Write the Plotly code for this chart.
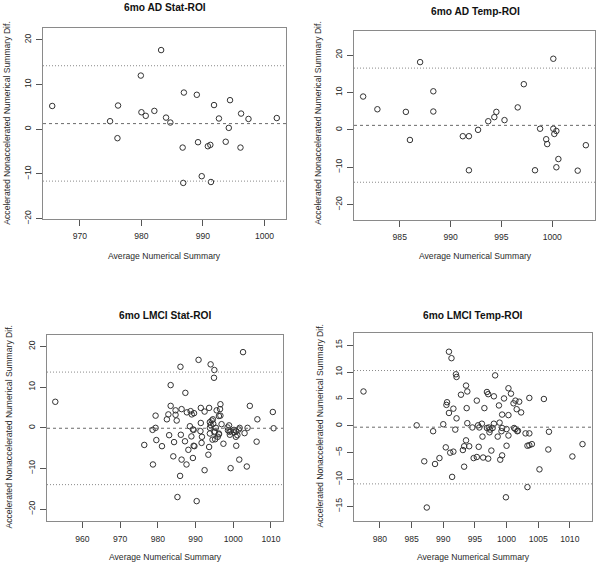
import plotly.graph_objects as go

# ---------------- data ----------------
ad_stat_x = [965.5, 974.9, 976.2, 976.1, 979.9, 980.0, 980.7, 982.1, 983.2, 984.0,
             984.7, 986.9, 989.0, 991.8, 992.6, 994.4, 994.2, 996.2, 997.4, 1002.0,
             986.7, 989.2, 990.8, 991.2, 993.7, 996.1, 986.8, 989.8, 991.3]
ad_stat_y = [5.2, 1.8, 5.3, -2.0, 12.0, 3.8, 3.0, 4.1, 17.7, 2.6,
             1.5, 8.2, 7.7, 5.4, 2.4, 6.5, 0.3, 3.5, 2.3, 2.5,
             -4.1, -2.9, -3.8, -3.5, -2.8, -4.1, -12.0, -10.5, -11.8]
ad_stat_lines = [1.26, 14.2, -11.6]   # mean, upper limit, lower limit

ad_temp_x = [981.4, 982.8, 985.6, 986.0, 987.0, 988.3, 988.3, 991.2, 991.8, 992.7,
             993.7, 994.3, 994.5, 995.3, 996.6, 997.2, 998.8, 999.4, 999.5, 1000.1,
             1000.1, 1000.2, 1000.4, 1003.3, 991.8, 998.3, 1000.4, 1000.6, 1002.5]
ad_temp_y = [8.9, 5.5, 4.8, -2.7, 18.1, 10.3, 4.9, -1.7, -1.7, 0.0,
             2.3, 3.4, 4.8, 2.6, 6.0, 12.2, 0.3, -2.5, -3.8, 19.0,
             0.3, -1.1, -0.3, -4.1, -10.8, -10.8, -10.0, -7.8, -10.9]
ad_temp_lines = [1.2, 16.5, -14.0]

lmci_stat_x = [952.8, 979.4, 979.4, 982.4, 982.8, 983.4, 983.4, 984.7, 984.7, 985.0,
               986.0, 986.3, 987.3, 987.7, 988.7, 989.0, 989.6, 988.5, 989.3, 990.8,
               991.4, 991.4, 992.4, 993.6, 994.0, 995.0, 994.9, 993.8, 994.6, 995.6,
               996.6, 996.5, 996.2, 996.9, 993.8, 995.0, 996.2, 998.5, 999.0, 1000.2,
               1001.1, 1001.7, 1002.6, 1003.0, 1003.8, 1004.4, 1006.4, 1010.5, 1010.7,
               978.6, 976.4, 979.6, 981.1, 983.0, 984.3, 984.1, 986.1, 986.3, 987.2,
               987.6, 988.1, 988.9, 989.5, 989.7, 989.5, 989.3, 985.9, 991.3, 991.7,
               992.4, 993.4, 993.6, 994.5, 995.2, 995.1, 995.9, 996.2, 999.3, 1000.7,
               1000.8, 1001.6, 1006.2, 1003.6, 999.3, 978.7, 985.2, 990.3,
               996.6, 994.3, 994.7, 994.0, 995.4, 998.9, 1000.2, 998.6, 1000.8, 1001.5,
               993.8, 999.1, 991.6, 997.4]
lmci_stat_y = [6.4, 3.0, 0.0, 2.1, 3.3, 10.5, 5.4, 4.3, 3.2, 1.8,
               15.0, 4.6, 8.6, 3.8, 4.1, 3.3, 3.6, 0.4, -0.4, 16.7,
               4.9, 1.2, 4.0, 4.9, 15.6, 14.2, 12.3, 1.4, 2.1, 4.3,
               5.8, 4.6, 2.9, 0.9, 0.0, -1.1, -1.4, 0.1, -1.0, -1.1,
               -1.8, 0.0, 18.6, -1.3, 0.0, 5.4, 2.1, 3.9, -0.1,
               -0.5, -4.2, -3.0, -4.5, -1.8, -3.5, -7.0, -1.7, -7.8, -3.3,
               -9.0, -5.4, -2.1, -4.4, -4.5, -0.5, -7.4, -11.8, -0.8, -2.2,
               -10.4, -6.6, -4.7, -2.9, -2.8, -0.9, -2.2, -1.6, -0.8, -2.2,
               -4.4, -7.8, -3.4, -9.5, -9.9, -9.0, -17.0, -18.0,
               3.0, 1.8, 1.0, 0.7, 0.0, 0.6, -0.5, -0.6, -0.8, -0.4,
               -1.4, -1.7, -3.7, -3.9]
lmci_stat_lines = [-0.1, 13.7, -13.95]

lmci_temp_x = [977.4, 985.8, 988.4, 990.0, 990.9, 991.3, 992.0, 992.1, 990.6, 990.5,
               990.9, 991.6, 992.1, 991.9, 992.8, 993.6, 993.8, 993.7, 993.8, 994.6,
               995.3, 995.5, 996.1, 996.5, 996.9, 997.1, 996.9, 997.4, 998.0, 998.2,
               998.0, 998.8, 998.9, 999.3, 999.6, 999.3, 1000.0, 1000.3, 1000.3, 1000.7,
               1001.1, 1001.4, 1002.0, 1001.6, 1002.3, 1001.4, 1001.7, 1003.0, 1003.6, 1003.6,
               1005.9, 1006.7, 987.0, 987.4, 988.7, 989.4, 990.4, 991.1, 991.6, 991.4,
               993.1, 993.3, 993.6, 994.1, 993.3, 994.8, 995.3, 995.6, 996.2, 996.3,
               997.1, 997.3, 997.6, 998.6, 999.0, 999.3, 999.2, 999.9, 1000.0, 1000.3,
               1001.8, 1003.3, 1003.6, 1004.0, 1003.3, 1005.2, 1006.6, 1010.4, 1012.0,
               997.8, 1001.2, 997.2, 995.7]
lmci_temp_y = [6.4, 0.1, -1.0, 0.3, 13.8, 12.6, 9.6, 9.1, 4.4, 3.9,
               2.4, 3.2, 1.4, -0.7, 5.8, 7.5, 6.4, 3.3, 0.5, -0.3,
               4.7, 0.1, 0.4, 3.3, 6.3, 5.9, -0.4, -0.7, 5.5, 9.4,
               0.4, 3.8, 0.6, 2.1, 5.1, -0.4, -0.6, 2.0, 7.0, 6.0,
               4.2, 4.7, 4.5, 3.1, 2.5, -0.6, -1.0, -1.4, -1.4, 5.2,
               5.0, -1.1, -6.6, -15.2, -7.1, -6.0, -4.0, -5.0, -4.8, -9.5,
               -4.5, -3.8, -2.7, -3.8, -7.6, -6.0, -5.8, -3.9, -2.0, -5.9,
               -6.1, -1.2, -4.6, -2.0, -6.3, -5.5, -1.0, -13.3, -3.7, -1.8,
               -0.9, -3.7, -3.6, -3.4, -11.4, -8.1, -4.4, -5.7, -3.4,
               -0.4, -0.4, -0.3, -0.3]
lmci_temp_lines = [-0.25, 10.3, -10.8]

titles = ["6mo AD Stat-ROI", "6mo AD Temp-ROI", "6mo LMCI Stat-ROI", "6mo LMCI Temp-ROI"]
x_label = "Average Numerical Summary"
y_label = "Accelerated Nonaccelerated Numerical Summary Dif."

xticks = [[970, 980, 990, 1000], [985, 990, 995, 1000],
          [960, 970, 980, 990, 1000, 1010], [980, 985, 990, 995, 1000, 1005, 1010]]
yticks = [[-20, -10, 0, 10, 20], [-20, -10, 0, 10, 20],
          [-20, -10, 0, 10, 20], [-15, -10, -5, 0, 5, 10, 15]]

xs = [ad_stat_x, ad_temp_x, lmci_stat_x, lmci_temp_x]
ys = [ad_stat_y, ad_temp_y, lmci_stat_y, lmci_temp_y]
lines = [ad_stat_lines, ad_temp_lines, lmci_stat_lines, lmci_temp_lines]

# ---------------- layout geometry (pixels) ----------------
W, H = 600, 572
boxes = [(43, 286, 28, 221), (354, 595, 31, 222), (47, 283, 339, 527), (354, 592, 337, 527)]
xranges = [[964.0, 1003.5], [980.5, 1004.2], [950.6, 1013.2], [975.9, 1013.5]]
yranges = [[-20.0, 22.7], [-24.0, 26.5], [-23.0, 22.7], [-17.8, 17.2]]
title_pos = [(165, 8), (475, 12), (165, 319), (473, 319)]
xlab_pos = [(164, 259), (475, 259), (165, 563), (473, 563)]
ylab_pos = [(7, 125), (318, 125), (9, 432), (320, 431)]

FONT = "Liberation Sans, Arial, sans-serif"
TXT = "#2a2a2a"
fig = go.Figure()
shapes = []
annotations = []
layout = {}

for i in range(4):
    n = "" if i == 0 else str(i + 1)
    x0, x1, y0, y1 = boxes[i]
    fig.add_trace(go.Scatter(
        x=xs[i], y=ys[i], mode="markers", xaxis="x" + n, yaxis="y" + n,
        marker=dict(symbol="circle-open", size=5.5, color="#333333", line=dict(width=1, color="#333333")),
        showlegend=False, hoverinfo="x+y", cliponaxis=False))
    axcommon = dict(showgrid=False, zeroline=False, showline=True, mirror=True,
                    linecolor="#8a8a8a", linewidth=1, ticks="outside", ticklen=6,
                    tickcolor="#555555", tickwidth=1,
                    tickfont=dict(family=FONT, size=8.6, color=TXT))
    layout["xaxis" + n] = dict(axcommon, domain=[x0 / W, x1 / W], range=xranges[i],
                               tickvals=xticks[i], anchor="y" + n, ticklabelstandoff=3)
    layout["yaxis" + n] = dict(axcommon, domain=[1 - y1 / H, 1 - y0 / H], range=yranges[i],
                               tickvals=yticks[i], anchor="x" + n, tickangle=-90,
                               ticklabelstandoff=2)
    mean, up, lo = lines[i]
    shapes.append(dict(type="line", xref="x" + n + " domain", yref="y" + n, x0=0, x1=1,
                       y0=mean, y1=mean, line=dict(color="#6a6a6a", width=1, dash="3px,3px")))
    for v in (up, lo):
        shapes.append(dict(type="line", xref="x" + n + " domain", yref="y" + n, x0=0, x1=1,
                           y0=v, y1=v, line=dict(color="#8a8a8a", width=1, dash="1px,2px")))
    tx, ty = title_pos[i]
    annotations.append(dict(text="<b>" + titles[i] + "</b>", x=tx / W, y=1 - ty / H,
                            xref="paper", yref="paper", showarrow=False,
                            xanchor="center", yanchor="middle",
                            font=dict(family=FONT, size=10.2, color="#111111")))
    lx, ly = xlab_pos[i]
    annotations.append(dict(text=x_label, x=lx / W, y=1 - ly / H, xref="paper", yref="paper",
                            showarrow=False, xanchor="center", yanchor="middle",
                            font=dict(family=FONT, size=8.6, color=TXT)))
    vx, vy = ylab_pos[i]
    annotations.append(dict(text=y_label, x=vx / W, y=1 - vy / H, xref="paper", yref="paper",
                            showarrow=False, xanchor="center", yanchor="middle", textangle=-90,
                            font=dict(family=FONT, size=8.6, color=TXT)))

fig.update_layout(width=W, height=H, margin=dict(l=0, r=0, t=0, b=0),
                  paper_bgcolor="white", plot_bgcolor="white",
                  shapes=shapes, annotations=annotations, **layout)
fig.write_html("out.html", config={"displayModeBar": False},
               post_script="document.body.style.margin='0';document.body.style.overflow='hidden';")
